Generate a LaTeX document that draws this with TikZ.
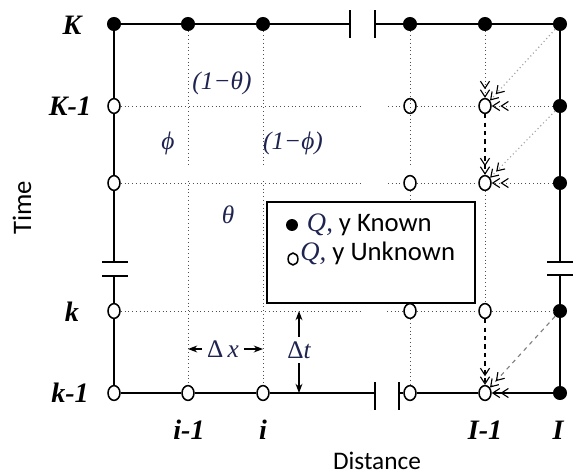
\documentclass[tikz,border=0pt]{standalone}
\usepackage{fontspec}
\setmainfont{Carlito}
\newfontfamily\labfont{Liberation Serif}
\usetikzlibrary{shapes.geometric, arrows.meta, positioning, calc}

\definecolor{gridgray}{RGB}{80,80,80}
\definecolor{diaggray}{RGB}{165,165,165}
\definecolor{greektxt}{RGB}{30,35,80}

\begin{document}
\begin{tikzpicture}[x=0.025cm, y=-0.025cm, >=Stealth,
		known/.style={circle, fill=black, inner sep=0pt, minimum size=10pt},
		unknown/.style={ellipse, draw, fill=white, line width=1.1pt, inner sep=0pt, minimum width=8.5pt, minimum height=10.5pt},
		bound/.style={draw, line width=1.1pt},
		grid/.style={draw, dotted, gridgray, line width=0.7pt},
		diag/.style={draw, dotted, diaggray, line width=0.8pt},
		tip/.style={-{Straight Barb[length=5pt, width=6.5pt, black, line width=0.8pt]Straight Barb[length=5pt, width=6.5pt, black, line width=0.8pt]}},
		flow/.style={draw, dashed, line width=0.8pt, tip},
		rowlab/.style={font=\labfont\bfseries\itshape\fontsize{20}{22}\selectfont},
		greek/.style={text=greektxt, font=\labfont\itshape\fontsize{18}{20}\selectfont},
		axis/.style={font=\fontsize{19}{22}\selectfont},
		legend/.style={draw, line width=1.1pt, minimum width=148pt, minimum height=72pt, inner sep=0pt}]
		
		\useasboundingbox (0,0) rectangle (573,475);
		
		% Knoten
		\node [known] (top-0) at (114,24) {};
		\node [known] (top-1) at (188,24) {};
		\node [known] (top-2) at (263,24) {};
		\node [known] (top-3) at (410,24) {};
		\node [known] (top-4) at (485,24) {};
		\node [known] (top-5) at (560,24) {};
		\node [unknown] (km-0) at (114,106) {};
		\node [unknown] (km-3) at (410,106) {};
		\node [unknown] (km-4) at (485,106) {};
		\node [known] (km-5) at (560,106) {};
		\node [unknown] (mid-0) at (114,183) {};
		\node [unknown] (mid-3) at (410,183) {};
		\node [unknown] (mid-4) at (485,183) {};
		\node [known] (mid-5) at (560,183) {};
		\node [unknown] (low-0) at (114,311) {};
		\node [unknown] (low-3) at (410,311) {};
		\node [unknown] (low-4) at (485,311) {};
		\node [known] (low-5) at (560,311) {};
		\node [unknown] (bot-0) at (114,393) {};
		\node [unknown] (bot-1) at (188,393) {};
		\node [unknown] (bot-2) at (263,393) {};
		\node [unknown] (bot-3) at (410,393) {};
		\node [unknown] (bot-4) at (485,393) {};
		\node [known] (bot-5) at (560,393) {};
		
		\node [legend] (key) at (371,252.5) {};
		
		% Unterbrechungen
		\coordinate (gap-t1) at (350,24);
		\coordinate (gap-t2) at (375,24);
		\coordinate (gap-l1) at (114,262);
		\coordinate (gap-l2) at (114,276);
		\coordinate (gap-r1) at (560,262);
		\coordinate (gap-r2) at (560,275);
		\coordinate (gap-b1) at (375,393);
		\coordinate (gap-b2) at (399,393);
		
		\coordinate (cut-1) at (362,106);
		\coordinate (cut-2) at (388,106);
		\coordinate (cut-3) at (362,183);
		\coordinate (cut-4) at (388,183);
		\coordinate (cut-5) at (362,311);
		\coordinate (cut-6) at (387,311);
		\coordinate (cut-7) at (188,167);
		\coordinate (cut-8) at (188,181);
		\coordinate (cut-9) at (263,167);
		\coordinate (cut-10) at (263,181);
		\coordinate (cut-11) at (410,167);
		
		% Rand
		\path [bound] (top-0) -- (top-1) -- (top-2) -- (gap-t1);
		\path [bound] (gap-t2) -- (top-3) -- (top-4) -- (top-5);
		\path [bound] (top-0) -- (km-0) -- (mid-0) -- (gap-l1);
		\path [bound] (gap-l2) -- (low-0) -- (bot-0);
		\path [bound] (top-5) -- (km-5) -- (mid-5) -- (gap-r1);
		\path [bound] (gap-r2) -- (low-5) -- (bot-5);
		\path [bound] (bot-0) -- (bot-1) -- (bot-2) -- (gap-b1);
		\path [bound] (gap-b2) -- (bot-3) -- (bot-4);
		\path [bound, tip] (bot-5) -- (bot-4);
		
		\path [bound] ($(gap-t1)+(0,-14)$) -- ($(gap-t1)+(0,14)$);
		\path [bound] ($(gap-t2)+(0,-14)$) -- ($(gap-t2)+(0,14)$);
		\path [bound] ($(gap-b1)+(0,-11)$) -- ($(gap-b1)+(0,17)$);
		\path [bound] ($(gap-b2)+(0,-11)$) -- ($(gap-b2)+(0,17)$);
		\path [bound] ($(gap-l1)+(-12,0)$) -- ($(gap-l1)+(14,0)$);
		\path [bound] ($(gap-l2)+(-12,0)$) -- ($(gap-l2)+(14,0)$);
		\path [bound] ($(gap-r1)+(-13,0)$) -- ($(gap-r1)+(13,0)$);
		\path [bound] ($(gap-r2)+(-13,0)$) -- ($(gap-r2)+(13,0)$);
		
		% Gitter
		\path [grid] (km-0) -- (cut-1);
		\path [grid] (cut-2) -- (km-3) -- (km-4);
		\path [grid] (mid-0) -- (cut-3);
		\path [grid] (cut-4) -- (mid-3) -- (mid-4);
		\path [grid] (low-0) -- (cut-5);
		\path [grid] (cut-6) -- (low-3) -- (low-4) -- (low-5);
		\path [grid] (top-1) -- (cut-7);
		\path [grid] (cut-8) -- (bot-1);
		\path [grid] (top-2) -- (cut-9);
		\path [grid] (cut-10) -- (bot-2);
		\path [grid] (top-3) -- (cut-11);
		\path [grid] (mid-3) -- (key.north -| mid-3);
		\path [grid] (low-3) -- (bot-3);
		\path [grid] (mid-4) -- (low-4);
		
		% Pfeile zu I-1
		\path [grid, tip] (top-4) -- (km-4);
		\path [grid, tip] (km-5) -- (km-4);
		\path [grid, tip] (mid-5) -- (mid-4);
		\path [diag, tip] (top-5) -- (km-4);
		\path [diag, tip] (km-5) -- (mid-4);
		\path [flow] (km-4) -- (mid-4);
		\path [flow] (low-4) -- (bot-4);
		\path [flow, gray] (low-5) -- (bot-4);
		
		% Beschriftung
		\node [rowlab] (lab-K) at (72,25) {K};
		\node [rowlab] (lab-K1) at (70,106) {K-1};
		\node [rowlab] (lab-k) at (72,312) {k};
		\node [rowlab] (lab-k1) at (70,393) {k-1};
		\node [rowlab] (lab-i1) at (189,430) {i-1};
		\node [rowlab] (lab-i) at (263,430) {i};
		\node [rowlab] (lab-I1) at (485,430) {I-1};
		\node [rowlab] (lab-I) at (558,430) {I};
		
		\node [axis, rotate=90] (time) at (22,208) {Time};
		\node [axis, anchor=base, font=\fontsize{18}{20}\selectfont] (dist) at (377,469) {Distance};
		
		\node [greek] (w-theta1) at (222,83) {(1−θ)};
		\node [greek] (w-phi) at (168,143) {ϕ};
		\node [greek] (w-phi1) at (293,143) {(1−ϕ)};
		\node [greek] (w-theta) at (228,215) {θ};
		
		\node [greek] (dx) at (223,349) {\upshape Δ\,\itshape x};
		\node [greek] (dt) at (299,350) {\upshape Δ\itshape t};
		\path [draw, ->, thick] (dx.west) -- (dx.west -| bot-1);
		\path [draw, ->, thick] (dx.east) -- (dx.east -| bot-2);
		\path [draw, ->, thick] (dt.north) -- (dt.north |- low-0);
		\path [draw, ->, thick] (dt.south) -- (dt.south |- bot-0);
		
		% Legende
		\node [known, minimum size=8.5pt] (key-known) at (292,225) {};
		\node [unknown, minimum width=7pt, minimum height=8.5pt] (key-unknown) at (293,259) {};
		\node [axis, inner sep=0pt, right=6pt of key-known] (txt-known) {{\labfont\itshape\color{greektxt}Q,} y Known};
		\node [axis, inner sep=0pt, right=1pt of key-unknown, yshift=4pt] (txt-unknown) {{\labfont\itshape\color{greektxt}Q,} y Unknown};
		
	\end{tikzpicture}
\end{document}
